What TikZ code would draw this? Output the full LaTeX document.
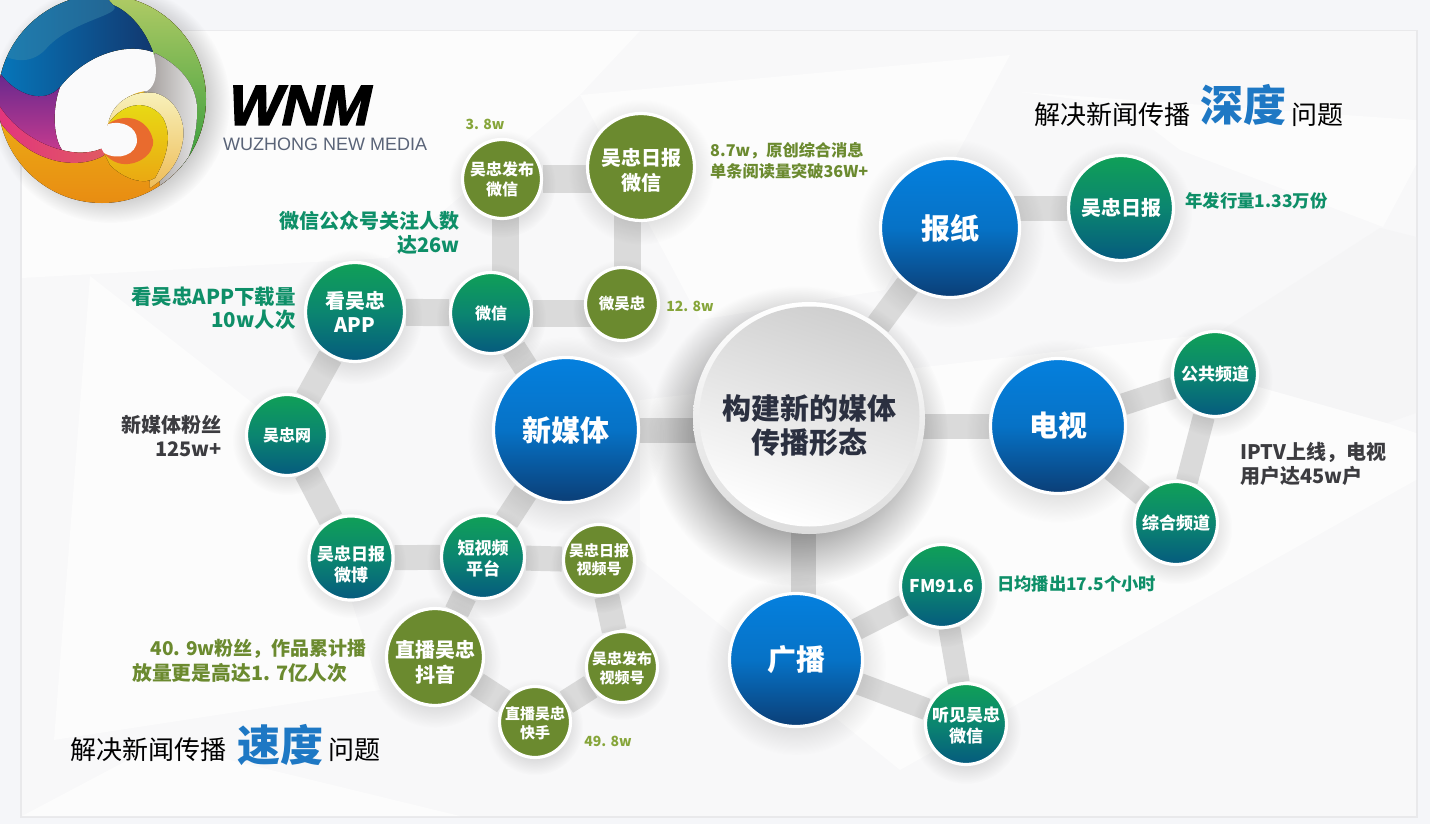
\documentclass[tikz,border=0pt]{standalone}
\usepackage{fontspec}
\setmainfont{Noto Sans CJK SC}
\newfontfamily\lat{Liberation Sans}
\newfontfamily\wnmf[BoldFeatures={FakeBold=2.5,FakeSlant=0.22}]{Liberation Sans}
\usetikzlibrary{fadings,calc}
\definecolor{bgout}{HTML}{F5F6F9}
\definecolor{barc}{HTML}{DADADA}
\definecolor{greentxt}{HTML}{0E8F68}
\definecolor{olivetxt}{HTML}{6B8A2F}
\definecolor{olivelt}{HTML}{86A53A}
\definecolor{darktxt}{HTML}{3C3C40}
\definecolor{bluetxt}{HTML}{1E78C4}
\definecolor{E0}{HTML}{E9E9EB}\definecolor{E1}{HTML}{F8F8F9}
\definecolor{F1}{HTML}{F5F5F6}\definecolor{F2}{HTML}{FCFCFC}
\definecolor{RIM}{HTML}{DDDDDD}\definecolor{FT}{HTML}{CFCFCF}\definecolor{CT}{HTML}{2B3040}
\definecolor{LY}{HTML}{F0D818}\definecolor{LO}{HTML}{E88A12}
\definecolor{GA}{HTML}{B4CC66}\definecolor{GB}{HTML}{2F9A3A}
\definecolor{GR1}{HTML}{9A9492}\definecolor{GR2}{HTML}{E6E6E6}
\definecolor{HOLE}{HTML}{FAFAFB}
\definecolor{BA}{HTML}{0678BC}\definecolor{BB}{HTML}{12386F}\definecolor{BH}{HTML}{3C8AA8}
\definecolor{PA}{HTML}{63288E}\definecolor{PB}{HTML}{C43A8E}
\definecolor{PK1}{HTML}{E2347E}\definecolor{PK2}{HTML}{E05A62}
\definecolor{LT}{HTML}{F8F2BC}\definecolor{LT2}{HTML}{EEBC58}\definecolor{LY2}{HTML}{E8DC14}\definecolor{LO2}{HTML}{EAA612}
\definecolor{OR}{HTML}{E96B2E}\definecolor{LOGOT}{HTML}{5A6478}
\definecolor{HL1}{HTML}{0580DE}\definecolor{HL3}{HTML}{0672C6}\definecolor{HL2}{HTML}{0B3E76}
\definecolor{TL1}{HTML}{10A057}\definecolor{TL3}{HTML}{0B8570}\definecolor{TL2}{HTML}{055A7E}
\pgfdeclarelayer{bgl}\pgfdeclarelayer{shad}\pgfsetlayers{bgl,shad,main}
\tikzfading[name=softc,inner color=transparent!68,outer color=transparent!100]
\tikzfading[name=softd,inner color=transparent!10,outer color=transparent!100]
\tikzset{
 bubble/.style={circle,draw=white,line width=3.2pt,inner sep=0pt,align=center,text=white},
 bluefill/.style={bubble,top color=HL1,bottom color=HL2,middle color=HL3},
 tealfill/.style={bubble,top color=TL1,bottom color=TL2,middle color=TL3},
 olivefill/.style={bubble,fill=olivetxt},
 bar/.style={barc,line width=#1},
 bar/.default=25pt,
 lab/.style={inner sep=0pt,font=\bfseries},
 facet/.style={draw=none},
}
% #1 style, #2 name, #3 x, #4 y, #5 radius, #6 font size, #7 text
\newcommand{\bub}[7]{%
 \begin{pgfonlayer}{shad}
 \fill[black,path fading=softc] (#3,#4+5) circle[radius=#5*1.36];
 \end{pgfonlayer}
 \pgfmathsetmacro\lsk{#6*1.24}
 \node[#1,minimum size=2*#5,font=\bfseries\fontsize{#6}{\lsk}\selectfont] (#2) at (#3,#4) {#7};
}
\newcommand{\dn}[1]{\rule{0pt}{#1pt}}
\begin{document}
\begin{tikzpicture}[x=1pt,y=-1pt]
\useasboundingbox (0,0) rectangle (1430,824);
\clip (0,0) rectangle (1430,824);
\begin{pgfonlayer}{bgl}
 \fill[bgout] (0,0) rectangle (1430,824);
 \fill[E0] (20,30) rectangle (1418,818);
 \fill[E1] (22,31) rectangle (1416,816);
 \fill[F2,facet] (22,31)--(640,31)--(580,95)--(388,258)--(22,278)--cycle;
 \fill[F2,facet] (1020,92)--(1416,120)--(1416,165)--(1383,227)--(1180,150)--(1121,105)--cycle;
 \fill[F2,facet] (640,400)--(1217,333)--(1210,373)--(1387,423)--(1416,433)--(1416,480)--(900,770)--(640,560)--cycle;
 \fill[F2,facet] (90,276)--(300,440)--(380,690)--(54,740)--cycle;
 \fill[F2,facet] (580,95)--(1010,55)--(885,290)--(700,320)--cycle;
 \fill[F1,facet] (1380,228)--(1416,237)--(1416,413)--(1387,423)--(1210,373)--(1217,333)--cycle;
 \fill[F2,facet] (22,816)--(160,743)--(460,816)--cycle;
\end{pgfonlayer}
% ---- centre
\begin{pgfonlayer}{shad}
 \fill[black,path fading=softd] (798,436) circle[radius=150];
\end{pgfonlayer}
\node[circle,minimum size=232,inner sep=0pt,top color=white,bottom color=RIM] (core) at (809,418) {};
\node[circle,minimum size=220,inner sep=0pt,top color=FT,bottom color=white,shading angle=-18,align=center,text=CT,font=\bfseries\fontsize{29}{34}\selectfont] (face) at (809.5,416.5) {\dn{44}构建新的媒体\\传播形态};
% ---- big
\bub{bluefill}{xmt}{566}{430}{72.5}{29}{新媒体}
\bub{bluefill}{bz}{950}{228}{69.5}{29}{报纸}
\bub{bluefill}{ds}{1058}{426}{67.5}{29}{电视}
\bub{bluefill}{gb}{796}{660}{66.5}{29}{广播}
% ---- teal
\bub{tealfill}{rb}{1121}{208}{52.5}{20}{吴忠日报}
\bub{tealfill}{ggpd}{1215}{374}{42.5}{17}{公共频道}
\bub{tealfill}{zhpd}{1176}{523}{41.5}{17}{综合频道}
\bub{tealfill}{fm}{942}{586}{41.5}{17.5}{FM91.6}
\bub{tealfill}{tj}{966}{724}{40.5}{17}{\dn{18}听见吴忠\\微信}
\bub{tealfill}{kwz}{355}{312}{49.5}{20}{看吴忠\\APP}
\bub{tealfill}{wx}{491}{313}{40.5}{16}{微信}
\bub{tealfill}{wzw}{287}{435}{40.5}{16}{吴忠网}
\bub{tealfill}{wb}{351}{558}{40.5}{17}{\dn{27}吴忠日报\\微博}
\bub{tealfill}{dsp}{483}{557}{41.5}{17}{\dn{17}短视频\\平台}
% ---- olive
\bub{olivefill}{fbwx}{502}{179}{39.5}{16}{吴忠发布\\微信}
\bub{olivefill}{rbwx}{641}{167}{53.5}{20}{\dn{24}吴忠日报\\微信}
\bub{olivefill}{wwz}{622}{304}{36.5}{15.5}{微吴忠}
\bub{olivefill}{sph}{599}{560}{35.5}{15}{吴忠日报\\视频号}
\bub{olivefill}{dy}{435}{657}{48.5}{20}{\dn{28}直播吴忠\\抖音}
\bub{olivefill}{fbsph}{622}{667}{35.5}{15}{\dn{16}吴忠发布\\视频号}
\bub{olivefill}{ks}{535}{722}{35.5}{15}{\dn{15}直播吴忠\\快手}
% ---- connectors
\begin{pgfonlayer}{bgl}
 \draw[bar] (xmt) -- (xmt -| core);
 \draw[bar] (core) -- (bz);
 \draw[bar] (ds) -- (ds -| core);
 \draw[bar] ($(gb)+(7,0)$) -- ($(gb)+(7,-200)$);
 \draw[bar] (bz |- rb) -- (rb);
 \draw[bar=22pt] (ds) -- (ggpd);
 \draw[bar=22pt] (ggpd) -- (zhpd);
 \draw[bar=22pt] (zhpd) -- (ds);
 \draw[bar=22pt] (gb) -- (fm);
 \draw[bar=22pt] (fm) -- (tj);
 \draw[bar=22pt] (tj) -- (gb);
 \draw[bar] (xmt) -- (wx);
 \draw[bar=27pt] (kwz) -- (wx);
 \draw[bar=27pt] (wx) -- (wx -| wwz);
 \draw[bar=27pt] ($(fbwx)+(3,0)$) -- ($(fbwx |- wx)+(3,0)$);
 \draw[bar=27pt] ($(wwz)+(5,0)$) -- ($(wwz)+(5,-130)$);
 \draw[bar=27pt] (fbwx) -- (fbwx -| rbwx);
 \draw[bar] (kwz) -- (wzw);
 \draw[bar] (wzw) -- (wb);
 \draw[bar] (wb) -- (dsp);
 \draw[bar] (dsp) -- (sph);
 \draw[bar] (dsp) -- (xmt);
 \draw[bar] (dsp) -- (dy);
 \draw[bar] (dy) -- (ks);
 \draw[bar] (ks) -- (fbsph);
 \draw[bar] (sph) -- (fbsph);
\end{pgfonlayer}
% ---- logo
\begin{pgfonlayer}{shad}
 \fill[black,path fading=softd] (110,103) circle[radius=120];
\end{pgfonlayer}
\begin{scope}
 \clip (102,99) circle[radius=104];
 \fill[top color=LY,bottom color=LO] (-10,-10) rectangle (215,210);
 \fill[top color=GA,bottom color=GB] (40,-10)--(220,-10)--(220,160)--(181,176)--(165,130)--(150,50)--cycle;
 \fill[left color=GR1,right color=GR2] (155,53) .. controls (185,68) and (198,90) .. (197,112) .. controls (197,135) and (190,160) .. (178,176) -- (160,185) -- (150,100) -- (140,85) -- cycle;
 \fill[HOLE] (153,52) .. controls (125,42) and (85,55) .. (60,87) .. controls (53,105) and (52,135) .. (62,150) .. controls (80,155) and (95,152) .. (103,148) .. controls (115,160) and (135,160) .. (140,140) .. controls (140,125) and (125,118) .. (108,124) .. controls (112,105) and (130,92) .. (147,91) .. controls (157,85) and (158,70) .. (153,52) -- cycle;
 \fill[left color=BA,right color=BB] (0,56) -- (-5,-10) -- (100,-10) -- (113,5) .. controls (130,12) and (145,30) .. (153,52) .. controls (125,42) and (85,55) .. (60,87) .. controls (50,100) and (20,105) .. (0,73) -- cycle;
 \fill[BH,opacity=.45] (-5,-10) -- (100,-10) -- (113,5) .. controls (125,15) and (70,20) .. (45,50) .. controls (30,65) and (10,62) .. (-5,50) -- cycle;
 \fill[top color=PA,bottom color=PB] (-5,70) -- (0,73) .. controls (15,95) and (45,105) .. (60,87) .. controls (53,105) and (52,135) .. (62,150) -- (20,140) -- (-5,105) -- cycle;
 \fill[left color=PK1,right color=PK2] (-5,98) .. controls (10,128) and (40,145) .. (62,150) .. controls (80,155) and (95,152) .. (103,148) -- (106,154) .. controls (90,165) and (60,168) .. (30,150) .. controls (15,140) and (5,130) .. (-5,115) -- cycle;
 \fill[top color=LT,bottom color=LT2] (108,124) .. controls (113,100) and (135,90) .. (155,93) .. controls (175,98) and (186,120) .. (183,140) .. controls (180,160) and (170,175) .. (150,188) .. controls (150,160) and (135,130) .. (108,124) -- cycle;
 \fill[top color=LY2,bottom color=LO2] (108,124) .. controls (125,100) and (150,100) .. (163,118) .. controls (172,135) and (168,155) .. (155,178) .. controls (145,185) and (125,180) .. (110,165) -- (104,153) -- cycle;
 \fill[OR] (108,124) .. controls (125,112) and (148,118) .. (153,140) .. controls (155,155) and (135,168) .. (118,163) .. controls (112,161) and (108,158) .. (104,153) -- cycle;
 \fill[HOLE] (108,124) .. controls (122,120) and (137,127) .. (137,140) .. controls (137,155) and (118,161) .. (104,153) -- (100,146) -- cycle;
\end{scope}
% ---- logo text
\node[lab,font=\wnmf\bfseries\fontsize{57}{60}\selectfont,text=black,anchor=base west] (wnm) at (225,125) {WNM};
\node[lab,font=\lat\fontsize{18}{20}\selectfont,text=LOGOT,anchor=base west] (wzn) at (223,150) {WUZHONG NEW MEDIA};
% ---- labels
\node[lab,font=\bfseries\fontsize{14}{18}\selectfont,text=olivelt] (l1) at (485,124) {3. 8w};
\node[lab,font=\bfseries\fontsize{16.2}{21}\selectfont,text=olivetxt,align=left,anchor=west] (l2) at (710,160.5) {8.7w，原创综合消息\\单条阅读量突破36W+};
\node[lab,font=\bfseries\fontsize{14}{18}\selectfont,text=olivelt] (l3) at (690,306) {12. 8w};
\node[lab,font=\bfseries\fontsize{17.4}{22}\selectfont,text=greentxt,anchor=west] (l4) at (1185,201) {年发行量1.33万份};
\node[lab,font=\bfseries\fontsize{20}{24}\selectfont,text=greentxt,align=right,anchor=east] (l5) at (460,233) {微信公众号关注人数\\达26w};
\node[lab,font=\bfseries\fontsize{20.5}{23}\selectfont,text=greentxt,align=right,anchor=east] (l6) at (296,308) {看吴忠APP下载量\\10w人次};
\node[lab,font=\bfseries\fontsize{20}{24}\selectfont,text=darktxt,align=right,anchor=east] (l7) at (222,436) {新媒体粉丝\\125w+};
\node[lab,font=\bfseries\fontsize{20}{24}\selectfont,text=darktxt,align=left,anchor=west] (l8) at (1240,464) {IPTV上线，电视\\用户达45w户};
\node[lab,font=\bfseries\fontsize{17.3}{20}\selectfont,text=greentxt,anchor=west] (l9) at (997,584) {日均播出17.5个小时};
\node[lab,font=\bfseries\fontsize{19}{22}\selectfont,text=olivetxt,anchor=east] (l10) at (367,649) {40. 9w粉丝，作品累计播};
\node[lab,font=\bfseries\fontsize{19.8}{22}\selectfont,text=olivetxt,anchor=west] (l11) at (132,673) {放量更是高达1. 7亿人次};
\node[lab,font=\bfseries\fontsize{14}{18}\selectfont,text=olivelt] (l12) at (608,741) {49. 8w};
% ---- slogans
\node[lab,font=\fontsize{26}{30}\selectfont,text=black,anchor=west] (s1) at (1034,115) {解决新闻传播};
\node[lab,font=\bfseries\fontsize{43}{46}\selectfont,text=bluetxt,anchor=west] (s2) at (1200,105) {深度};
\node[lab,font=\fontsize{26}{30}\selectfont,text=black,anchor=west] (s3) at (1291,115) {问题};
\node[lab,font=\fontsize{26}{30}\selectfont,text=black,anchor=west] (s4) at (70,750) {解决新闻传播};
\node[lab,font=\bfseries\fontsize{43}{46}\selectfont,text=bluetxt,anchor=west] (s5) at (237,745) {速度};
\node[lab,font=\fontsize{26}{30}\selectfont,text=black,anchor=west] (s6) at (328,750) {问题};
\end{tikzpicture}
\end{document}
